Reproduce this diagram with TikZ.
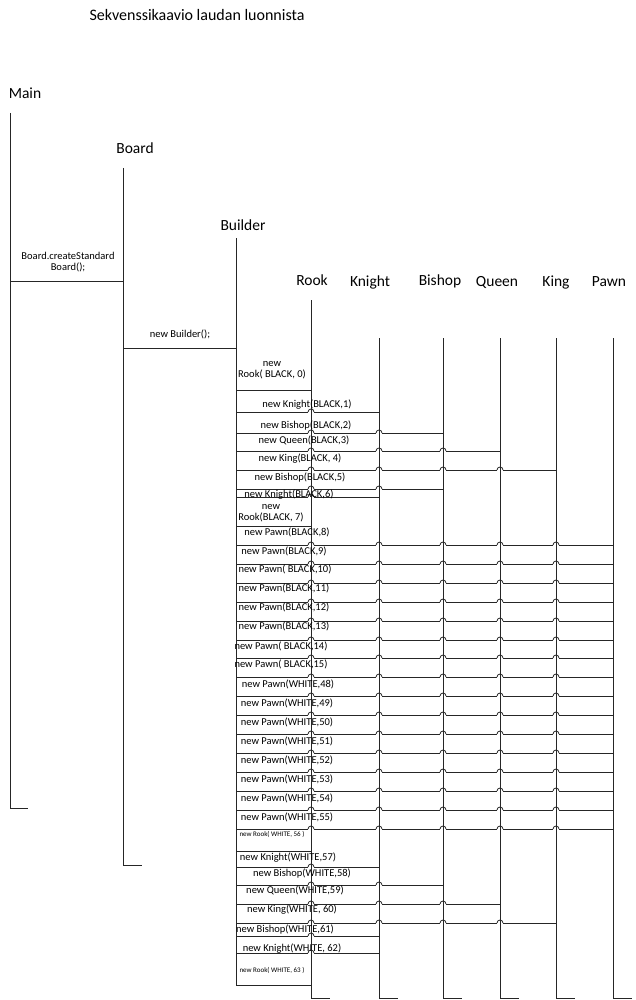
\documentclass[tikz,border=0pt]{standalone}
\usepackage{fontspec}
\setmainfont{Carlito}
\usetikzlibrary{positioning}

\tikzset{
    lifename/.style = {font=\fontsize{15.5}{18}\selectfont, inner sep=0pt},
    msgtext/.style = {font=\fontsize{10.5}{11.5}\selectfont, inner sep=0pt, align=center},
    smallmsg/.style = {font=\fontsize{7}{8}\selectfont, inner sep=0pt},
}
% a message line jumping over a lifeline
\newcommand{\hopover}[2]{
    \path (#1 |- 0,#2) coordinate (hop);
    \draw[white, line width=2pt] (hop) ++(-3.3,0) -- ++(6.6,0);
    \draw (hop) ++(0,-3.5) -- ++(0,7);
    \draw (hop) ++(-3,0) arc[start angle=180, end angle=360, radius=3];
}

\begin{document}
\begin{tikzpicture}[x=1pt, y=-1pt, line width=0.8pt, draw=black!85]
    \useasboundingbox (0,0) rectangle (636,1000);
    \node[lifename, font=\fontsize{16}{18}\selectfont] (title) at (197,15) {Sekvenssikaavio laudan luonnista};
    % names of the lifelines
    \foreach \n/\txt/\x/\y in {main/Main/25/93, board/Board/135/148, builder/Builder/243/225,
            rook/Rook/312/280, knight/Knight/370/282, bishop/Bishop/440/281,
            queen/Queen/497/282, king/King/556/282, pawn/Pawn/609/282}
        \node[lifename] (\n head) at (\x,\y) {\txt};
    % lifelines
    \foreach \n/\x/\top/\bot/\foot in {main/10/113/808/18, board/123/168/865/19,
            builder/236/238/985/0, rook/311/300/998/19, knight/379/338/998/19,
            bishop/443/338/998/19, queen/500/338/998/19, king/556/338/998/19,
            pawn/613/338/998/19} {
        \coordinate (\n) at (\x,0);
        \draw (\x,\top) -- (\x,\bot) -- ++(\foot,0);
    }
    % calls from main and board
    \draw (main |- 0,281) -- (board |- 0,281);
    \node[msgtext] (createmsg) at (68,262) {Board.createStandard\\Board();};
    \draw (board |- 0,348) -- (builder |- 0,348);
    \node[msgtext] (buildermsg) at (180,334) {new Builder();};
    % pieces made by the builder
    \foreach \y/\tgt/\k/\lx/\ly/\st/\txt in {
            390/rook/1/272/370/msgtext/{new\\Rook( BLACK, 0)},
            412/knight/2/307/405/msgtext/{new Knight(BLACK,1)},
            433/bishop/3/306/426/msgtext/{new Bishop(BLACK,2)},
            451/queen/4/304/440/msgtext/{new Queen(BLACK,3)},
            470/king/5/300/459/msgtext/{new King(BLACK, 4)},
            489/bishop/3/300/478/msgtext/{new Bishop(BLACK,5)},
            497/knight/2/289/495/msgtext/{new Knight(BLACK,6)},
            526/rook/1/271/513/msgtext/{new\\Rook(BLACK, 7)},
            545/pawn/6/287/532/msgtext/{new Pawn(BLACK,8)},
            564/pawn/6/284/551/msgtext/{new Pawn(BLACK,9)},
            583/pawn/6/285/569/msgtext/{new Pawn( BLACK,10)},
            602/pawn/6/284/588/msgtext/{new Pawn(BLACK,11)},
            621/pawn/6/284/607/msgtext/{new Pawn(BLACK,12)},
            640/pawn/6/284/626/msgtext/{new Pawn(BLACK,13)},
            658/pawn/6/281/646/msgtext/{new Pawn( BLACK,14)},
            677/pawn/6/281/664/msgtext/{new Pawn( BLACK,15)},
            696/pawn/6/288/684/msgtext/{new Pawn(WHITE,48)},
            715/pawn/6/287/703/msgtext/{new Pawn(WHITE,49)},
            734/pawn/6/287/722/msgtext/{new Pawn(WHITE,50)},
            753/pawn/6/287/741/msgtext/{new Pawn(WHITE,51)},
            772/pawn/6/287/760/msgtext/{new Pawn(WHITE,52)},
            791/pawn/6/287/779/msgtext/{new Pawn(WHITE,53)},
            810/pawn/6/287/798/msgtext/{new Pawn(WHITE,54)},
            829/pawn/6/287/817/msgtext/{new Pawn(WHITE,55)},
            851/rook/1/272/834/smallmsg/{new Rook( WHITE, 56 )},
            867/knight/2/288/858/msgtext/{new Knight(WHITE,57)},
            885/bishop/3/302/873/msgtext/{new Bishop(WHITE,58)},
            904/queen/4/295/890/msgtext/{new Queen(WHITE,59)},
            923/king/5/292/910/msgtext/{new King(WHITE, 60)},
            936/knight/2/285/929/msgtext/{new Bishop(WHITE,61)},
            953/knight/2/292/949/msgtext/{new Knight(WHITE, 62)},
            985/rook/1/272/970/smallmsg/{new Rook( WHITE, 63 )}} {
        \draw (builder |- 0,\y) -- (\tgt |- 0,\y);
        \foreach \c [count=\i] in {rook,knight,bishop,queen,king}
            {\ifnum\i<\k \hopover{\c}{\y}\fi}
        \node[\st] (msg\y) at (\lx,\ly) {\txt};
    }
\end{tikzpicture}
\end{document}
